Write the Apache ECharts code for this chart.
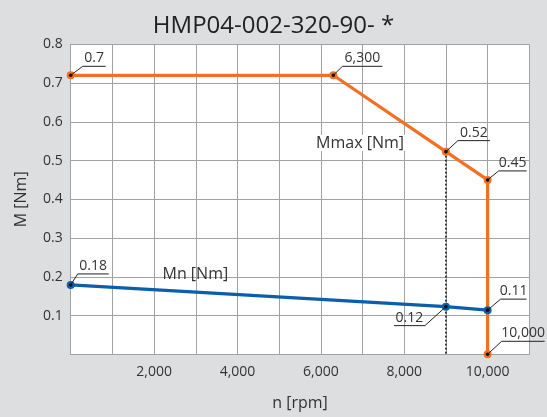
<!DOCTYPE html>
<html>
<head>
<meta charset="utf-8">
<script src="https://cdn.jsdelivr.net/npm/echarts@6/dist/echarts.min.js"></script>
<style>
html,body{margin:0;padding:0;background:#dddedf;}
#chart{width:547px;height:417px;}
</style>
</head>
<body>
<div id="chart"></div>
<script>
// ---- data ----
const titleText = 'HMP04-002-320-90- *';
const xName = 'n [rpm]';
const yName = 'M [Nm]';
const maxSpeed = [0, 6300, 9000, 10000, 10000];
const maxTorque = [0.72, 0.72, 0.523, 0.45, 0];
const nomSpeed = [0, 9000, 10000];
const nomTorque = [0.179, 0.123, 0.114];
const guideSpeed = [9000, 9000];
const guideTorque = [0.523, 0];
const annSpeed = [0, 6300, 9000, 10000, 0, 9000, 10000, 10000];
const annTorque = [0.72, 0.72, 0.523, 0.45, 0.179, 0.123, 0.114, 0];
const annText = ['0.7', '6,300', '0.52', '0.45', '0.18', '0.12', '0.11', '10,000'];
const seriesNames = ['Mmax [Nm]', 'Mn [Nm]'];
const seriesNameSpeed = [6940, 2990];
const seriesNameTorque = [0.545, 0.205];

// ---- styling (leader offsets: dx, dy, underline width, direction) ----
const leader = [[12,-9,23,1],[9,-9,40,1],[12,-11,32,1],[11,-9,28,1],[7,-11,31,1],[-21,19,31,-1],[13,-11,26,1],[14,-13,43,1]];
const ORANGE = '#f36f21';
const BLUE = '#0a5eab';
const FONT = '"Open Sans", sans-serif';
const TXT = '#333333';
const GRIDC = '#a2a2a2';

const zip = (a, b) => a.map((v, i) => [v, b[i]]);

const chart = echarts.init(document.getElementById('chart'));
chart.setOption({
  backgroundColor: '#dddedf',
  animation: false,
  title: {
    text: titleText, left: 'center', top: 9,
    textStyle: {fontFamily: FONT, fontSize: 24, fontWeight: 'normal', color: '#222'}
  },
  grid: {left: 70.7, right: 17.7, top: 44.3, bottom: 62.7, show: true, backgroundColor: '#ffffff', borderWidth: 0},
  xAxis: {
    type: 'value', min: 0, max: 11000, interval: 1000,
    name: xName, nameLocation: 'middle', nameGap: 41,
    nameTextStyle: {fontFamily: FONT, fontSize: 16, color: TXT},
    axisLine: {show: true, lineStyle: {color: GRIDC, width: 1}},
    axisTick: {show: false},
    axisLabel: {
      fontFamily: FONT, fontSize: 14, color: TXT, margin: 11,
      formatter: v => (v > 0 && v % 2000 === 0) ? v.toLocaleString('en-US') : ''
    },
    splitLine: {show: true, lineStyle: {color: GRIDC, width: 1}}
  },
  yAxis: {
    type: 'value', min: 0, max: 0.8, interval: 0.1,
    name: yName, nameLocation: 'middle', nameGap: 41, nameRotate: 90,
    nameTextStyle: {fontFamily: FONT, fontSize: 16, color: TXT},
    axisLine: {show: true, lineStyle: {color: GRIDC, width: 1}},
    axisTick: {show: false},
    axisLabel: {
      fontFamily: FONT, fontSize: 14, color: TXT, margin: 8,
      formatter: v => v === 0 ? '' : v.toFixed(1)
    },
    splitLine: {show: true, lineStyle: {color: GRIDC, width: 1}}
  },
  series: [
    {
      type: 'line', data: zip(guideSpeed, guideTorque), symbol: 'none', z: 2,
      lineStyle: {color: '#111', width: 1.5, type: [2, 2]}
    },
    {
      type: 'line', name: seriesNames[0], data: zip(maxSpeed, maxTorque), z: 3,
      symbol: 'circle', symbolSize: 8, itemStyle: {color: ORANGE},
      lineStyle: {color: ORANGE, width: 3.2}
    },
    {
      type: 'line', name: seriesNames[1], data: zip(nomSpeed, nomTorque), z: 3,
      symbol: 'circle', symbolSize: 8, itemStyle: {color: BLUE},
      lineStyle: {color: BLUE, width: 3.2}
    },
    {
      type: 'custom', z: 10, clip: false,
      data: zip(annSpeed, annTorque),
      renderItem: (params, api) => {
        const i = params.dataIndex;
        const p = api.coord([api.value(0), api.value(1)]);
        const [dx, dy, w, dir] = leader[i];
        const ex = p[0] + dx, ey = p[1] + dy;
        const ux = ex + dir * w;
        return {
          type: 'group',
          children: [
            {type: 'polyline', shape: {points: [p, [ex, ey], [ux, ey]]},
             style: {stroke: '#222', lineWidth: 1, fill: null}},
            {type: 'circle', shape: {cx: p[0], cy: p[1], r: 1.8}, style: {fill: '#111'}},
            {type: 'text', style: {text: annText[i], x: (ex + ux) / 2, y: ey - 1,
              align: 'center', verticalAlign: 'bottom', fontFamily: FONT, fontSize: 14, fill: TXT}}
          ]
        };
      }
    },
    {
      type: 'custom', z: 9, clip: false,
      data: zip(seriesNameSpeed, seriesNameTorque),
      renderItem: (params, api) => {
        const i = params.dataIndex;
        const p = api.coord([api.value(0), api.value(1)]);
        return {
          type: 'text',
          style: {text: seriesNames[i], x: p[0], y: p[1], align: 'center', verticalAlign: 'middle',
            fontFamily: FONT, fontSize: 16, fill: TXT,
            backgroundColor: i === 0 ? '#ffffff' : null, padding: [0, 1]}
        };
      }
    }
  ]
});
</script>
</body>
</html>
